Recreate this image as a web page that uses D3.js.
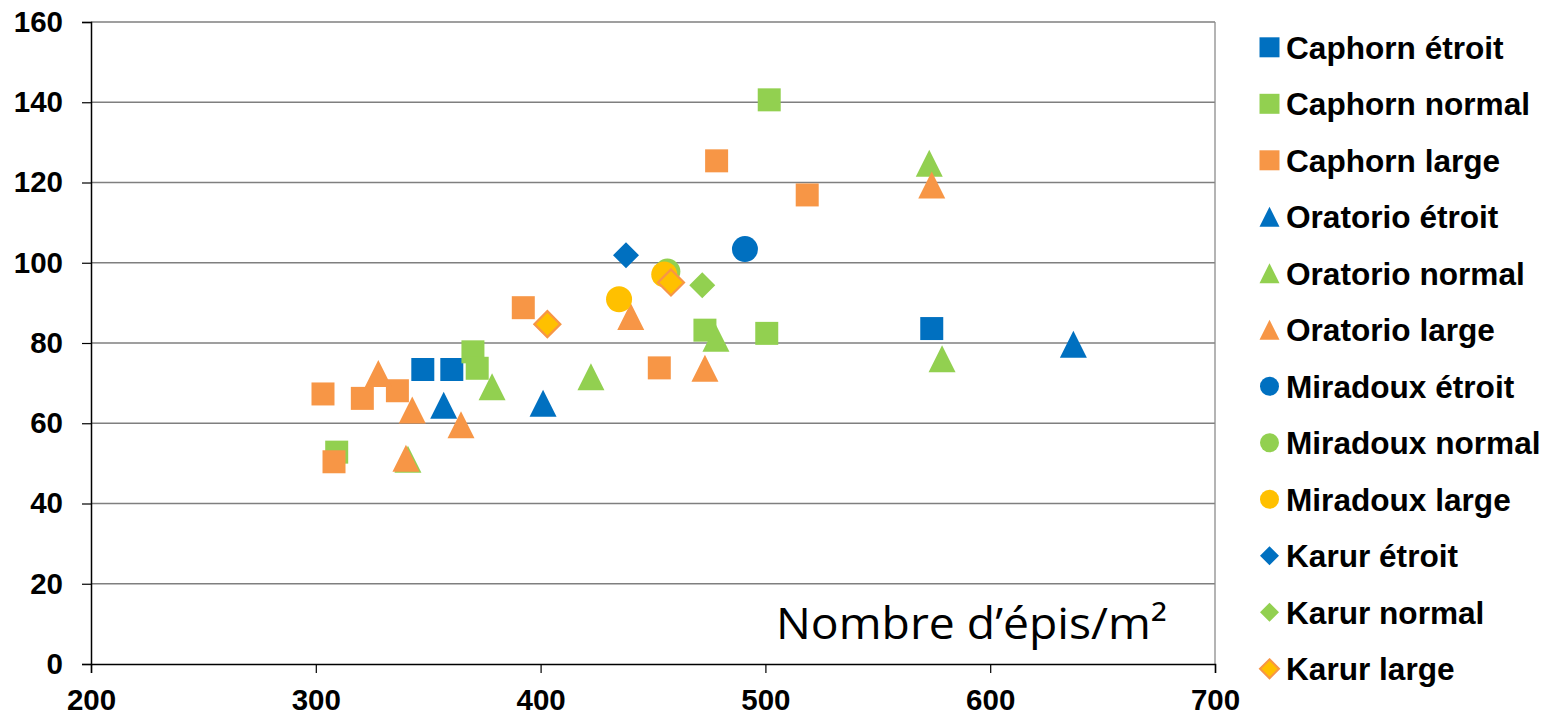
<!DOCTYPE html>
<html>
<head>
<meta charset="utf-8">
<script src="https://cdn.jsdelivr.net/npm/d3@7"></script>
<style>
  html, body { margin: 0; padding: 0; background: #fff; }
  svg { display: block; }
</style>
</head>
<body>
<svg id="chart" width="1551" height="718"></svg>
<script>
// ---------- data ----------
const xTicks = [200, 300, 400, 500, 600, 700];
const yTicks = [0, 20, 40, 60, 80, 100, 120, 140, 160];

const seriesNames = [
  "Caphorn étroit", "Caphorn normal", "Caphorn large",
  "Oratorio étroit", "Oratorio normal", "Oratorio large",
  "Miradoux étroit", "Miradoux normal", "Miradoux large",
  "Karur étroit", "Karur normal", "Karur large"
];

const caphornEtroit  = [[347.6, 73.4], [360.5, 73.4], [574.0, 83.6]];
const caphornNormal  = [[501.7, 140.6], [369.9, 77.8], [371.8, 73.7], [309.3, 52.8], [473.1, 83.2], [500.6, 82.4]];
const caphornLarge   = [[478.3, 125.4], [518.6, 116.9], [392.3, 88.8], [303.2, 67.3], [320.7, 66.2], [336.3, 68.1], [308.1, 50.4], [452.8, 73.8]];
const oratorioEtroit = [[637.0, 79.7], [401.1, 65.0], [356.9, 64.5]];
const oratorioNormal = [[572.9, 124.8], [578.6, 76.1], [478.0, 81.2], [378.4, 69.1], [422.4, 71.6], [341.0, 51.0]];
const oratorioLarge  = [[574.0, 119.4], [440.1, 86.6], [327.8, 72.4], [342.9, 63.3], [364.6, 59.6], [340.1, 51.3], [473.1, 73.7]];
const miradouxEtroit = [[490.9, 103.4]];
const miradouxNormal = [[456.4, 97.8]];
const miradouxLarge  = [[455.0, 97.1], [434.9, 90.9]];
const karurEtroit    = [[438.0, 101.9]];
const karurNormal    = [[471.9, 94.4]];
const karurLarge     = [[403.0, 84.7], [458.0, 95.1]];

const seriesValues = [
  caphornEtroit, caphornNormal, caphornLarge,
  oratorioEtroit, oratorioNormal, oratorioLarge,
  miradouxEtroit, miradouxNormal, miradouxLarge,
  karurEtroit, karurNormal, karurLarge
];
const axisTitle = "Nombre d’épis/m²";

// ---------- styles ----------
const BLUE = "#0070C0", GREEN = "#92D050", ORANGE = "#F79646", YELLOW = "#FFC000";
const shapes = ["square","square","square","triangle","triangle","triangle","circle","circle","circle","diamond","diamond","diamond"];
const fills  = [BLUE, GREEN, ORANGE, BLUE, GREEN, ORANGE, BLUE, GREEN, YELLOW, BLUE, GREEN, YELLOW];
const strokes = [null, null, null, null, null, null, null, null, null, null, null, ORANGE];

function markerPath(shape, s) {
  const h = s / 2;
  const p = d3.path();
  if (shape === "square") {
    p.rect(-h, -h, s, s);
  } else if (shape === "triangle") {
    p.moveTo(0, -h); p.lineTo(h, h); p.lineTo(-h, h); p.closePath();
  } else if (shape === "circle") {
    p.arc(0, 0, h, 0, 2 * Math.PI);
  } else if (shape === "diamond") {
    p.moveTo(0, -h); p.lineTo(h, 0); p.lineTo(0, h); p.lineTo(-h, 0); p.closePath();
  }
  return p.toString();
}
const plotSize = { square: 23, triangle: 27, circle: 26, diamond: 26 };
const legendSize = { square: 20, triangle: 20, circle: 19, diamond: 19 };

// ---------- layout ----------
const svg = d3.select("#chart");
const mLeft = 91, mRight = 1215, mTop = 22, mBottom = 664;

const x = d3.scaleLinear().domain([200, 700]).range([mLeft, mRight]);
const y = d3.scaleLinear().domain([0, 160]).range([mBottom, mTop]);

// gridlines
svg.append("g")
  .selectAll("line")
  .data(yTicks.filter(d => d > 0))
  .join("line")
  .attr("x1", mLeft).attr("x2", mRight)
  .attr("y1", d => y(d)).attr("y2", d => y(d))
  .attr("stroke", "#7f7f7f").attr("stroke-width", 1.3);

// right border
svg.append("line")
  .attr("x1", mRight).attr("x2", mRight).attr("y1", mTop).attr("y2", mBottom)
  .attr("stroke", "#8c8c8c").attr("stroke-width", 1.3);

// y axis
const yAxis = svg.append("g")
  .attr("transform", `translate(${mLeft},0)`)
  .call(d3.axisLeft(y).tickValues(yTicks).tickSize(9).tickPadding(19).tickFormat(d3.format("d")));
yAxis.select(".domain").attr("stroke", "#000").attr("stroke-width", 1.5);
yAxis.selectAll(".tick line").attr("stroke", "#000").attr("stroke-width", 1.2);
yAxis.selectAll(".tick text")
  .attr("font-family", "'Liberation Sans', Arial, sans-serif")
  .attr("font-weight", "bold").attr("font-size", 29.5).attr("fill", "#000");

// x axis
const xAxis = svg.append("g")
  .attr("transform", `translate(0,${mBottom})`)
  .call(d3.axisBottom(x).tickValues(xTicks).tickSize(9).tickPadding(16).tickFormat(d3.format("d")));
xAxis.select(".domain").attr("stroke", "#000").attr("stroke-width", 1.5);
xAxis.selectAll(".tick line").attr("stroke", "#000").attr("stroke-width", 1.2);
xAxis.selectAll(".tick text")
  .attr("font-family", "'Liberation Sans', Arial, sans-serif")
  .attr("font-weight", "bold").attr("font-size", 29.5).attr("fill", "#000");

// axis title inside plot
svg.append("text")
  .attr("x", 776).attr("y", 639)
  .attr("font-family", "'Open Sans', 'Noto Sans', sans-serif")
  .attr("font-size", 43)
  .attr("textLength", 391).attr("lengthAdjust", "spacingAndGlyphs")
  .attr("fill", "#000")
  .text(axisTitle);

// points
const pts = svg.append("g");
seriesValues.forEach((vals, i) => {
  pts.append("g")
    .selectAll("path")
    .data(vals)
    .join("path")
    .attr("transform", d => `translate(${x(d[0])},${y(d[1])})`)
    .attr("d", markerPath(shapes[i], plotSize[shapes[i]]))
    .attr("fill", fills[i])
    .attr("stroke", strokes[i] || "none")
    .attr("stroke-width", strokes[i] ? 2.2 : 0);
});

// legend
const legend = svg.append("g");
const legY = d3.scaleLinear().domain([0, 11]).range([47.3, 668.8]);
seriesNames.forEach((name, i) => {
  const g = legend.append("g").attr("transform", `translate(0,${legY(i)})`);
  g.append("path")
    .attr("transform", "translate(1269.5,0)")
    .attr("d", markerPath(shapes[i], legendSize[shapes[i]]))
    .attr("fill", fills[i])
    .attr("stroke", strokes[i] || "none")
    .attr("stroke-width", strokes[i] ? 2 : 0);
  g.append("text")
    .attr("x", 1286).attr("y", 0).attr("dy", "0.36em")
    .attr("font-family", "'Liberation Sans', Arial, sans-serif")
    .attr("font-weight", "bold").attr("font-size", 31.6).attr("fill", "#000")
    .text(name);
});
</script>
</body>
</html>
